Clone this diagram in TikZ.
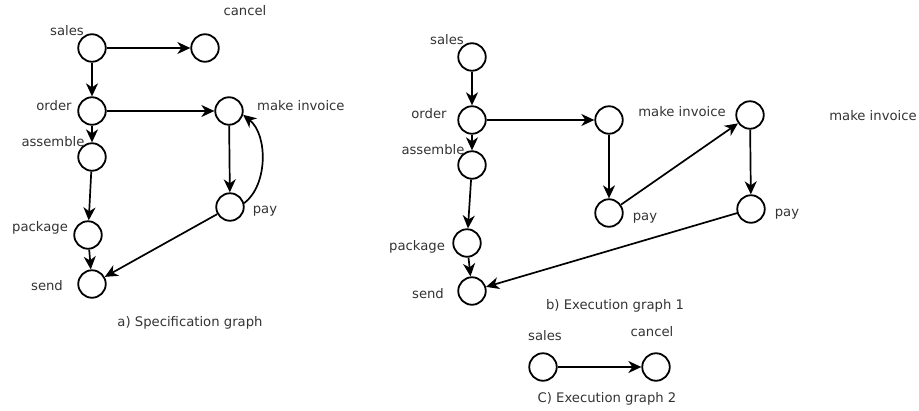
\documentclass[tikz,border=0pt]{standalone}
\usepackage{fontspec}
\setmainfont{DejaVu Sans}
\usetikzlibrary{arrows.meta}
\begin{document}
\begin{tikzpicture}[x=1pt,y=-1pt,
  state/.style={circle,draw=black,line width=1.8pt,minimum size=27.5pt,inner sep=0pt},
  lbl/.style={inner sep=0pt,text=black!80,font=\fontsize{13.2}{15}\selectfont,text height=10pt,text depth=2.7pt},
  arr/.style={-{Stealth[length=13pt,width=12pt,inset=4pt]},line width=1.7pt}]
\useasboundingbox (0,0) rectangle (919,410);

% a) specification graph
\node[state] (aS) at (92,48) {};
\node[state] (aC) at (205,48) {};
\node[state] (aO) at (92,111) {};
\node[state] (aM) at (229,111) {};
\node[state] (aA) at (92,157) {};
\node[state] (aP) at (230,207) {};
\node[state] (aK) at (88,235) {};
\node[state] (aE) at (92,284) {};

\node[lbl] (laC) at (245,12) {cancel};
\node[lbl] (laS) at (67,32) {sales};
\node[lbl] (laO) at (54,107) {order};
\node[lbl,anchor=west] (laM) at (257,107) {make invoice};
\node[lbl] (laA) at (53,143) {assemble};
\node[lbl] (laP) at (265,210) {pay};
\node[lbl] (laK) at (40,228) {package};
\node[lbl] (laE) at (47,287) {send};
\node[lbl] (capA) at (190,323) {a) Specification graph};

\draw[arr] (aS) -- (aC);
\draw[arr] (aS) -- (aO);
\draw[arr] (aO) -- (aM);
\draw[arr] (aO) -- (aA);
\draw[arr] (aA) -- (aK);
\draw[arr] (aK) -- (aE);
\draw[arr] (aM) -- (aP);
\draw[arr] (aP.15) .. controls (268,185) and (268,135) .. (aM.-15);
\draw[arr] (aP) -- (aE);

% b) execution graph 1
\node[state] (bS) at (472,57) {};
\node[state] (bO) at (472,120) {};
\node[state] (bA) at (472,165) {};
\node[state] (bK) at (467,243) {};
\node[state] (bE) at (472,291) {};
\node[state] (bM1) at (609,120) {};
\node[state] (bP1) at (609,213) {};
\node[state] (bM2) at (750,115) {};
\node[state] (bP2) at (751,209) {};

\node[lbl] (lbS) at (447,41) {sales};
\node[lbl] (lbO) at (429,115) {order};
\node[lbl] (lbA) at (433,151) {assemble};
\node[lbl] (lbK) at (417,247) {package};
\node[lbl] (lbE) at (428,295) {send};
\node[lbl] (lbM1) at (682,113) {make invoice};
\node[lbl] (lbM2) at (873,117) {make invoice};
\node[lbl] (lbP1) at (645,217) {pay};
\node[lbl] (lbP2) at (787,213) {pay};
\node[lbl] (capB) at (615,306) {b) Execution graph 1};

\draw[arr] (bS) -- (bO);
\draw[arr] (bO) -- (bA);
\draw[arr] (bA) -- (bK);
\draw[arr] (bK) -- (bE);
\draw[arr] (bO) -- (bM1);
\draw[arr] (bM1) -- (bP1);
\draw[arr] (bP1) -- (bM2);
\draw[arr] (bM2) -- (bP2);
\draw[arr] (bP2) -- (bE);

% c) execution graph 2
\node[state] (cS) at (543,367) {};
\node[state] (cC) at (656,367) {};
\node[lbl] (lcS) at (545,337) {sales};
\node[lbl] (lcC) at (652,333) {cancel};
\node[lbl] (capC) at (607,399) {C) Execution graph 2};
\draw[arr] (cS) -- (cC);
\end{tikzpicture}
\end{document}
